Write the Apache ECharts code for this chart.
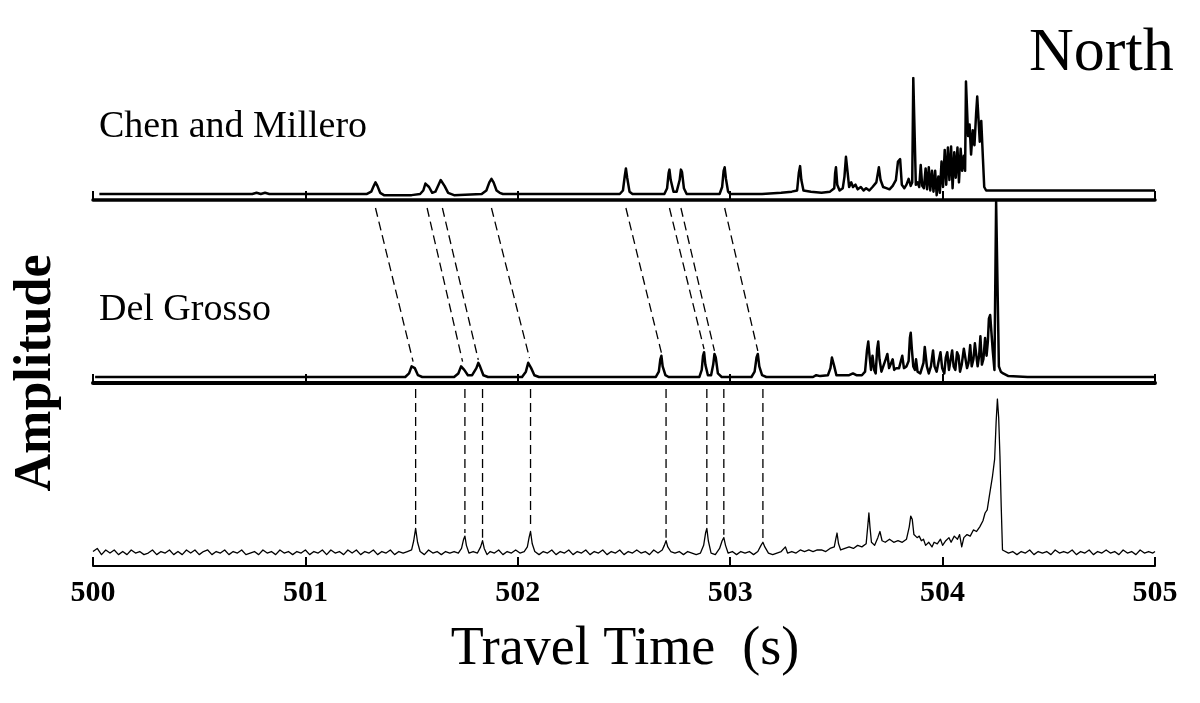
<!DOCTYPE html>
<html>
<head>
<meta charset="utf-8">
<title>North - travel time traces</title>
<script src="https://cdn.jsdelivr.net/npm/echarts@6/dist/echarts.min.js"></script>
<style>html, body { margin: 0; background: #fff; }</style>
</head>
<body>
<div id="main" style="width:1200px;height:703px;"></div>
<script>
// x axis
var timeMin = 500, timeMax = 505;
var tickLabels = ['500', '501', '502', '503', '504', '505'];

// predicted arrivals, Chen and Millero sound speed (relative amplitude)
var chenMillero = [
  [500.03,0],[500.75,0],[500.77,0.01],[500.79,0],[500.81,0.01],[500.83,0],[501.29,0],
  [501.31,0.02],[501.322,0.07],[501.330,0.10],[501.339,0.07],[501.352,0.01],[501.37,-0.01],[501.50,-0.01],
  [501.54,0],[501.555,0.03],[501.565,0.09],[501.573,0.10],[501.582,0.06],[501.597,0.01],[501.612,0.02],
  [501.627,0.08],[501.637,0.12],[501.645,0.12],[501.655,0.07],[501.672,0.01],[501.70,-0.01],[501.83,0],
  [501.852,0.03],[501.866,0.10],[501.876,0.13],[501.886,0.10],[501.90,0.03],[501.915,0.01],[501.93,0],
  [502.48,0],[502.495,0.03],[502.504,0.16],[502.509,0.22],[502.515,0.14],[502.526,0.02],[502.54,0],
  [502.69,0],[502.703,0.05],[502.710,0.18],[502.714,0.21],[502.720,0.12],[502.733,0.02],[502.748,0.02],
  [502.762,0.12],[502.768,0.21],[502.773,0.19],[502.782,0.05],[502.795,0],
  [502.95,0],[502.962,0.06],[502.969,0.20],[502.974,0.23],[502.980,0.13],[502.99,0.02],[503.00,0],
  [503.15,0],[503.24,0.01],[503.29,0.02],[503.315,0.03],[503.323,0.18],[503.329,0.24],[503.335,0.12],
  [503.345,0.03],[503.38,0.02],[503.43,0.01],[503.47,0.02],[503.49,0.05],[503.494,0.18],[503.498,0.23],
  [503.504,0.08],[503.515,0.03],[503.53,0.05],[503.538,0.15],[503.545,0.32],[503.552,0.20],[503.56,0.06],
  [503.57,0.10],[503.578,0.06],[503.59,0.08],[503.60,0.04],[503.615,0.06],[503.628,0.03],[503.64,0.05],
  [503.655,0.03],[503.67,0.06],[503.688,0.10],[503.70,0.23],[503.708,0.12],[503.72,0.06],[503.735,0.05],
  [503.75,0.04],[503.765,0.07],[503.78,0.12],[503.79,0.28],[503.80,0.30],[503.808,0.08],[503.82,0.05],
  [503.83,0.08],[503.84,0.13],[503.85,0.07],[503.857,0.10],[503.862,1.0],[503.868,1.0],[503.874,0.08],
  [503.882,0.10],[503.89,0.06],[503.897,0.25],[503.904,0.07],[503.912,0.05],[503.92,0.22],[503.927,0.04],
  [503.935,0.23],[503.942,0.03],[503.95,0.20],[503.957,0.02],[503.965,0.20],[503.972,-0.01],[503.98,0.15],
  [503.987,0.01],[503.995,0.28],[504.002,0.06],[504.01,0.38],[504.017,0.08],[504.025,0.40],[504.032,0.12],
  [504.04,0.41],[504.047,0.05],[504.055,0.36],[504.062,0.14],[504.07,0.40],[504.077,0.10],[504.085,0.39],
  [504.092,0.20],[504.10,0.33],[504.106,0.20],[504.110,0.97],[504.115,0.97],[504.12,0.50],[504.127,0.60],
  [504.134,0.34],[504.142,0.55],[504.15,0.42],[504.158,0.70],[504.163,0.84],[504.169,0.84],[504.175,0.45],
  [504.182,0.63],[504.19,0.30],[504.196,0.06],[504.205,0.03],[504.30,0.03],[505.00,0.03]
];

// predicted arrivals, Del Grosso sound speed
var delGrosso = [
  [500.01,0],[501.47,0],[501.488,0.02],[501.50,0.06],[501.507,0.07],[501.515,0.05],[501.53,0.01],[501.55,0],
  [501.70,0],[501.72,0.02],[501.733,0.06],[501.740,0.07],[501.748,0.04],[501.765,0.01],[501.785,0.01],
  [501.805,0.05],[501.814,0.08],[501.822,0.06],[501.838,0.01],[501.86,0],
  [502.02,0],[502.038,0.03],[502.049,0.08],[502.055,0.09],[502.063,0.05],[502.078,0.01],[502.10,0],
  [502.65,0],[502.664,0.03],[502.671,0.10],[502.676,0.12],[502.682,0.06],[502.695,0.01],[502.71,0],
  [502.855,0],[502.866,0.04],[502.872,0.12],[502.877,0.14],[502.883,0.07],[502.895,0.01],[502.91,0.01],
  [502.92,0.07],[502.926,0.13],[502.932,0.11],[502.942,0.02],[502.96,0],
  [503.10,0],[503.115,0.03],[503.124,0.11],[503.13,0.13],[503.137,0.06],[503.15,0.01],[503.17,0],
  [503.39,0],[503.405,0.01],[503.414,0.02],[503.424,0.005],[503.46,0.01],[503.472,0.05],[503.479,0.11],
  [503.484,0.12],[503.49,0.06],[503.50,0.01],[503.56,0.01],[503.578,0.02],[503.585,0.03],[503.594,0.01],
  [503.62,0.01],[503.635,0.03],[503.644,0.15],[503.65,0.20],[503.656,0.12],[503.663,0.04],[503.670,0.12],
  [503.678,0.04],[503.685,0.02],[503.692,0.16],[503.697,0.20],[503.703,0.10],[503.712,0.03],[503.72,0.04],
  [503.732,0.10],[503.74,0.13],[503.748,0.05],[503.756,0.04],[503.765,0.10],[503.772,0.04],[503.782,0.05],
  [503.795,0.05],[503.81,0.12],[503.818,0.05],[503.83,0.06],[503.84,0.09],[503.846,0.22],[503.85,0.25],
  [503.855,0.16],[503.862,0.06],[503.87,0.04],[503.875,0.10],[503.882,0.03],[503.895,0.02],[503.91,0.08],
  [503.916,0.17],[503.92,0.18],[503.926,0.06],[503.935,0.02],[503.945,0.06],[503.955,0.15],[503.962,0.06],
  [503.972,0.03],[503.98,0.08],[503.99,0.14],[503.998,0.05],[504.008,0.02],[504.015,0.11],[504.022,0.14],
  [504.03,0.04],[504.038,0.05],[504.045,0.15],[504.052,0.06],[504.06,0.04],[504.068,0.14],[504.075,0.12],
  [504.082,0.03],[504.09,0.07],[504.10,0.16],[504.108,0.17],[504.115,0.05],[504.122,0.08],[504.13,0.18],
  [504.137,0.06],[504.145,0.10],[504.152,0.19],[504.158,0.20],[504.165,0.06],[504.172,0.12],[504.178,0.23],
  [504.185,0.07],[504.192,0.10],[504.20,0.22],[504.207,0.12],[504.213,0.20],[504.218,0.33],[504.224,0.35],
  [504.23,0.35],[504.236,0.15],[504.244,0.04],[504.252,0.99],[504.256,1.0],[504.260,0.99],[504.265,0.06],
  [504.274,0.03],[504.285,0.02],[504.31,0.005],[504.40,0],[505.00,0]
];

// measured arrivals
var measured = [
  [500.00,0.01],[500.02,0.03],[500.04,-0.01],[500.06,0.02],[500.08,0.00],[500.10,0.02],[500.12,-0.01],
  [500.14,0.01],[500.16,-0.01],[500.18,0.02],[500.20,0.00],[500.22,0.01],[500.24,-0.01],[500.26,0.00],
  [500.28,0.02],[500.30,-0.01],[500.32,0.01],[500.34,0.00],[500.36,0.02],[500.38,-0.01],[500.40,0.01],
  [500.42,-0.01],[500.44,0.02],[500.46,0.00],[500.48,0.02],[500.50,-0.01],[500.52,0.01],[500.54,0.02],
  [500.56,-0.01],[500.58,0.01],[500.60,0.00],[500.62,0.02],[500.64,-0.01],[500.66,0.01],[500.68,0.00],
  [500.70,0.02],[500.72,-0.01],[500.74,0.00],[500.76,0.01],[500.78,-0.01],[500.80,0.02],[500.82,0.00],
  [500.84,0.01],[500.86,-0.01],[500.88,0.02],[500.90,0.00],[500.92,0.01],[500.94,-0.01],[500.96,0.01],
  [500.98,0.00],[501.00,0.02],[501.02,-0.01],[501.04,0.01],[501.06,0.00],[501.08,0.02],[501.10,-0.01],
  [501.12,0.02],[501.14,0.00],[501.16,0.01],[501.18,-0.01],[501.20,0.02],[501.22,0.00],[501.24,0.02],
  [501.26,-0.01],[501.28,0.01],[501.30,0.00],[501.32,0.02],[501.34,-0.01],[501.36,0.01],[501.38,0.00],
  [501.40,0.02],[501.42,-0.01],[501.44,0.01],[501.46,0.00],[501.48,0.01],[501.50,0.02],[501.510,0.08],
  [501.519,0.16],[501.528,0.07],[501.54,0.01],[501.56,-0.01],[501.58,0.02],[501.60,0.00],[501.62,0.01],
  [501.64,-0.01],[501.66,0.01],[501.68,0.00],[501.70,0.01],[501.72,0.00],[501.735,0.03],[501.745,0.09],
  [501.751,0.11],[501.758,0.05],[501.77,0.00],[501.79,0.01],[501.81,0.00],[501.825,0.04],[501.834,0.08],
  [501.842,0.03],[501.855,-0.01],[501.87,0.01],[501.89,0.00],[501.91,0.02],[501.93,-0.01],[501.95,0.01],
  [501.97,0.00],[501.99,0.02],[502.01,0.00],[502.03,0.01],[502.045,0.04],[502.053,0.10],[502.06,0.14],
  [502.068,0.06],[502.08,0.01],[502.10,-0.01],[502.12,0.01],[502.14,0.00],[502.16,0.02],[502.18,-0.01],
  [502.20,0.01],[502.22,0.00],[502.24,0.02],[502.26,-0.01],[502.28,0.01],[502.30,0.00],[502.32,0.02],
  [502.34,-0.01],[502.36,0.01],[502.38,0.00],[502.40,0.02],[502.42,-0.01],[502.44,0.01],[502.46,0.00],
  [502.48,0.02],[502.50,-0.01],[502.52,0.01],[502.54,0.00],[502.56,0.02],[502.58,0.00],[502.60,0.01],
  [502.62,-0.01],[502.64,0.02],[502.66,0.00],[502.68,0.02],[502.690,0.05],[502.698,0.08],[502.706,0.04],
  [502.72,0.01],[502.74,0.00],[502.76,0.01],[502.78,-0.01],[502.80,0.01],[502.82,0.00],[502.84,-0.01],
  [502.86,0.00],[502.875,0.05],[502.884,0.13],[502.890,0.16],[502.897,0.08],[502.91,0.00],[502.93,-0.01],
  [502.95,0.03],[502.962,0.08],[502.970,0.10],[502.978,0.05],[502.99,0.00],[503.01,0.01],[503.03,-0.01],
  [503.05,0.01],[503.07,0.00],[503.09,0.01],[503.11,-0.01],[503.13,0.01],[503.145,0.05],[503.154,0.07],
  [503.163,0.04],[503.18,0.00],[503.20,-0.01],[503.22,0.00],[503.24,0.01],[503.26,0.04],[503.27,0.00],
  [503.29,0.01],[503.31,0.00],[503.33,0.02],[503.35,0.01],[503.37,0.02],[503.39,0.01],[503.41,0.02],
  [503.43,0.02],[503.45,0.01],[503.47,0.03],[503.49,0.04],[503.497,0.09],[503.503,0.13],[503.51,0.06],
  [503.52,0.02],[503.54,0.03],[503.56,0.04],[503.58,0.03],[503.60,0.05],[503.62,0.04],[503.64,0.06],
  [503.648,0.18],[503.653,0.26],[503.658,0.17],[503.665,0.07],[503.68,0.05],[503.695,0.10],[503.705,0.14],
  [503.715,0.08],[503.73,0.07],[503.75,0.09],[503.77,0.07],[503.79,0.08],[503.81,0.07],[503.83,0.09],
  [503.843,0.17],[503.85,0.24],[503.857,0.22],[503.865,0.12],[503.88,0.10],[503.89,0.11],[503.90,0.08],
  [503.91,0.09],[503.92,0.05],[503.935,0.07],[503.95,0.04],[503.96,0.07],[503.975,0.06],[503.99,0.09],
  [504.00,0.05],[504.015,0.08],[504.03,0.10],[504.04,0.07],[504.055,0.11],[504.07,0.09],[504.08,0.12],
  [504.09,0.04],[504.10,0.10],[504.115,0.12],[504.13,0.11],[504.145,0.15],[504.16,0.14],[504.175,0.17],
  [504.19,0.21],[504.20,0.26],[504.21,0.28],[504.22,0.37],[504.235,0.50],[504.245,0.61],[504.252,0.85],
  [504.258,1.00],[504.264,0.88],[504.27,0.63],[504.276,0.30],[504.282,0.02],[504.29,0.01],[504.31,0.00],
  [504.33,0.01],[504.35,-0.01],[504.37,0.01],[504.39,0.00],[504.41,0.02],[504.43,-0.01],[504.45,0.01],
  [504.47,0.00],[504.49,0.01],[504.51,-0.01],[504.53,0.02],[504.55,0.00],[504.57,0.01],[504.59,0.00],
  [504.61,0.02],[504.63,-0.01],[504.65,0.01],[504.67,0.00],[504.69,0.02],[504.71,-0.01],[504.73,0.01],
  [504.75,0.00],[504.77,0.02],[504.79,0.00],[504.81,0.01],[504.83,-0.01],[504.85,0.02],[504.87,0.00],
  [504.89,0.01],[504.91,-0.01],[504.93,0.02],[504.95,0.00],[504.97,0.01],[504.99,0.00],[505.00,0.01]
];

// matched arrivals: Chen and Millero -> Del Grosso
var linksTopMid = [
  [501.330, 501.507], [501.573, 501.740], [501.645, 501.814], [501.876, 502.055],
  [502.509, 502.676], [502.714, 502.877], [502.768, 502.926], [502.974, 503.130]
];
// matched arrivals: Del Grosso -> measured (drawn at the measured time)
var linksMidBot = [501.519, 501.751, 501.834, 502.060, 502.698, 502.890, 502.970, 503.154];

var yRange = [[-0.052, 1], [-0.034, 1], [-0.084, 1]];

var SERIF = '"Liberation Serif", "DejaVu Serif", serif';
var myChart = echarts.init(document.getElementById('main'));

function makeX(i, lineW, tickLen, showLabel) {
  return {
    gridIndex: i, type: 'value', min: timeMin, max: timeMax, interval: 1,
    axisLine: { show: true, onZero: false, lineStyle: { color: '#000', width: lineW } },
    axisTick: { show: true, inside: true, length: tickLen, lineStyle: { color: '#000', width: 2 } },
    axisLabel: {
      show: showLabel, margin: 12, color: '#000',
      fontFamily: SERIF, fontSize: 30, fontWeight: 'bold',
      formatter: function (v) { return tickLabels[Math.round(v - timeMin)]; }
    },
    splitLine: { show: false }
  };
}

function makeSeries(i, data, w) {
  return {
    type: 'line', xAxisIndex: i, yAxisIndex: i, data: data,
    symbol: 'none', silent: true, animation: false,
    lineStyle: { color: '#000', width: w, join: 'round' }
  };
}

var option = {
  backgroundColor: '#fff',
  animation: false,
  grid: [
    { left: 93, width: 1062, top: 78, height: 122 },
    { left: 93, width: 1062, top: 200, height: 183 },
    { left: 93, width: 1062, top: 399, height: 167 }
  ],
  xAxis: [makeX(0, 3.5, 9, false), makeX(1, 4, 9, false), makeX(2, 2, 9, true)],
  yAxis: [0, 1, 2].map(function (i) {
    return { gridIndex: i, type: 'value', min: yRange[i][0], max: yRange[i][1], show: false };
  }),
  series: [
    makeSeries(0, chenMillero, 2.5),
    makeSeries(1, delGrosso, 2.5),
    makeSeries(2, measured, 1.3)
  ]
};

myChart.setOption(option);

// biggest value of a trace close to a given time
function peakAt(data, t) {
  var best = 0;
  data.forEach(function (p) {
    if (Math.abs(p[0] - t) < 0.006 && p[1] > best) best = p[1];
  });
  return best;
}

var dash = { stroke: '#000', lineWidth: 1.3, lineDash: [9, 5] };
var graphics = [];

linksTopMid.forEach(function (l) {
  var a = myChart.convertToPixel({ gridIndex: 0 }, [l[0], yRange[0][0]]);
  var b = myChart.convertToPixel({ gridIndex: 1 }, [l[1], peakAt(delGrosso, l[1])]);
  graphics.push({ type: 'line', silent: true,
    shape: { x1: a[0], y1: a[1] + 8, x2: b[0], y2: b[1] - 3 }, style: dash });
});
linksMidBot.forEach(function (t) {
  var a = myChart.convertToPixel({ gridIndex: 1 }, [t, yRange[1][0]]);
  var b = myChart.convertToPixel({ gridIndex: 2 }, [t, peakAt(measured, t)]);
  graphics.push({ type: 'line', silent: true,
    shape: { x1: a[0], y1: a[1] + 6, x2: b[0], y2: b[1] - 3 }, style: dash });
});

function label(text, x, y, size, weight, align, rot) {
  return { type: 'text', x: x, y: y, rotation: rot || 0, silent: true,
    style: { text: text, fill: '#000', font: weight + ' ' + size + 'px ' + SERIF,
      align: align, verticalAlign: 'middle' } };
}
graphics.push(label('North', 1029, 54, 62, 'normal', 'left'));
graphics.push(label('Chen and Millero', 99, 127, 38, 'normal', 'left'));
graphics.push(label('Del Grosso', 99, 310, 38, 'normal', 'left'));
graphics.push(label('Travel Time  (s)', 625, 650, 54, 'normal', 'center'));
graphics.push(label('Amplitude', 37, 373, 52, 'bold', 'center', Math.PI / 2));

myChart.setOption({ graphic: graphics });
</script>
</body>
</html>
